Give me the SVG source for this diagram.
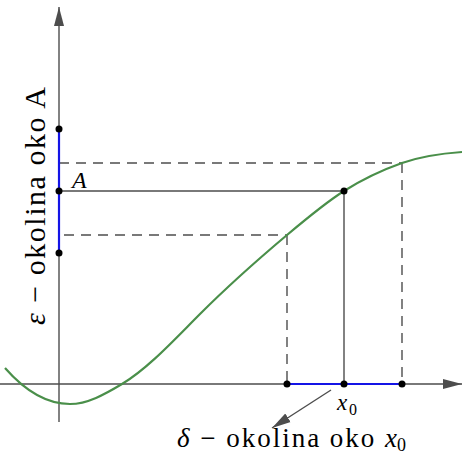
<svg xmlns="http://www.w3.org/2000/svg" width="462" height="455" viewBox="0 0 462 455">
<style>
.ax{stroke:#4d4d4d;stroke-width:1.4;fill:none}
.sol{stroke:#4d4d4d;stroke-width:1.4;fill:none}
.dash{stroke:#4d4d4d;stroke-width:1.4;fill:none;stroke-dasharray:10 7}
.blue{stroke:#1414e6;stroke-width:2.2;fill:none}
.fn{stroke:#4a8f4a;stroke-width:2.2;fill:none}
.pt{fill:#000}
text{font-family:'Liberation Serif','DejaVu Serif',serif;fill:#000}
.it{font-style:italic}
</style>
<defs>
<marker id="ah" markerUnits="userSpaceOnUse" markerWidth="20" markerHeight="12" refX="19" refY="6" orient="auto">
<path d="M0,1 L19,6 L0,11 z" fill="#4d4d4d"/>
</marker>
</defs>
<g id="axes">
<line class="ax" x1="0" y1="384" x2="462" y2="384" marker-end="url(#ah)"/>
<line class="ax" x1="59" y1="422" x2="59" y2="7" marker-end="url(#ah)"/>
</g>
<g id="connectors">
<line class="dash" x1="59" y1="163" x2="402" y2="163"/>
<line class="dash" x1="64" y1="235" x2="287" y2="235"/>
<line class="dash" x1="287" y1="235" x2="287" y2="384"/>
<line class="dash" x1="402" y1="163" x2="402" y2="384"/>
<line class="sol" x1="59" y1="191" x2="344" y2="191"/>
<line class="sol" x1="344" y1="191" x2="344" y2="384"/>
<line class="ax" x1="331" y1="390" x2="272" y2="428" marker-end="url(#ah)"/>
</g>
<g id="curve">
<path class="fn" d="M5,368 C26.7,392.7 48.3,404 70,404 C87.3,404 104.7,394.4 122,384 C148,368.4 174,340 200,314 C229,285 258,259.4 287,235 C306,219 325,203 344,191 C363.3,178.8 382.7,169.8 402,163 C422,156 442,153.4 462,152"/>
</g>
<g id="neighbourhoods">
<line class="blue" x1="59" y1="129" x2="59" y2="253"/>
<line class="blue" x1="287" y1="384" x2="402" y2="384"/>
</g>
<g id="points">
<circle class="pt" cx="59" cy="129" r="3.5"/>
<circle class="pt" cx="59" cy="191" r="3.5"/>
<circle class="pt" cx="59" cy="253" r="3.5"/>
<circle class="pt" cx="344" cy="191" r="3.5"/>
<circle class="pt" cx="287" cy="384" r="3.5"/>
<circle class="pt" cx="344" cy="384" r="3.5"/>
<circle class="pt" cx="402" cy="384" r="3.5"/>
</g>
<g id="labels">
<text class="it" x="72" y="188" font-size="24">A</text>
<text class="it" x="337" y="410" font-size="23">x</text>
<text x="349" y="415" font-size="16">0</text>
<text x="177" y="447" font-size="27" textLength="220" lengthAdjust="spacing"><tspan class="it">δ</tspan> − okolina oko <tspan class="it">x</tspan></text>
<text x="397" y="451" font-size="18">0</text>
<text transform="translate(45,325) rotate(-90)" x="0" y="0" font-size="30" textLength="238" lengthAdjust="spacing"><tspan class="it">ε</tspan> − okolina oko A</text>
</g>
</svg>
